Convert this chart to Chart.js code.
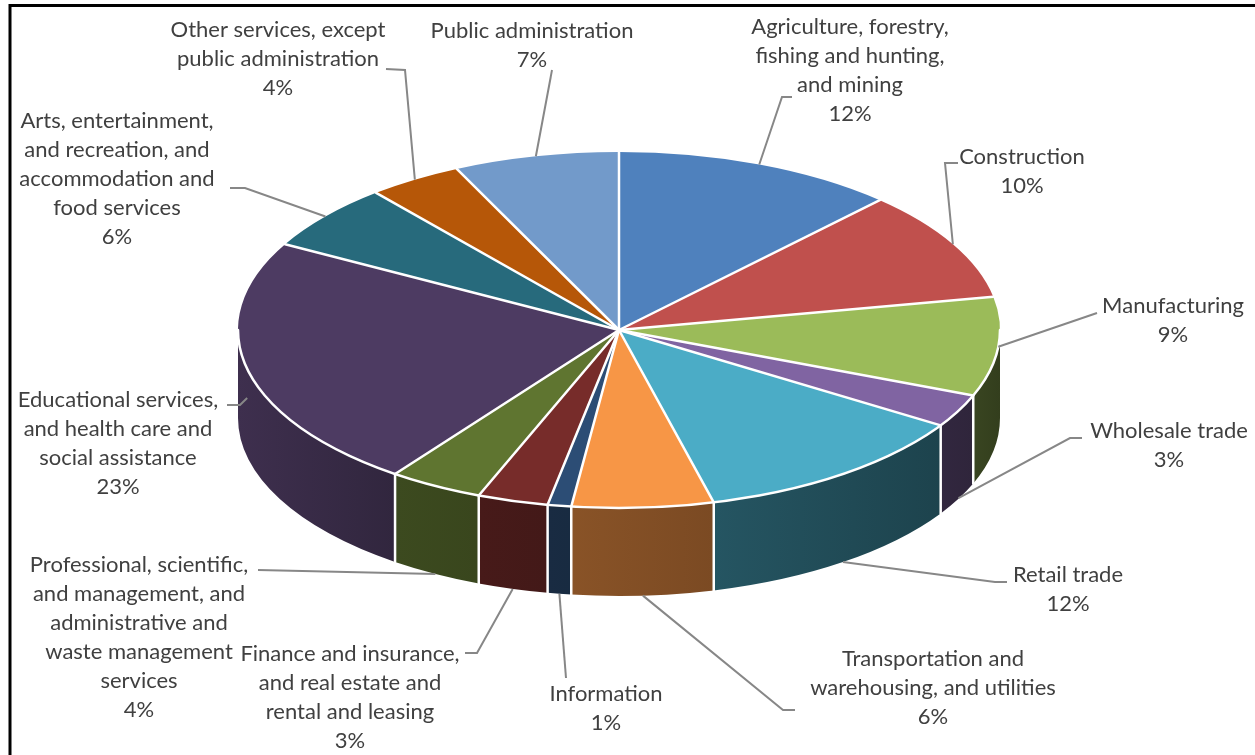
<!DOCTYPE html>
<html>
<head>
<meta charset="utf-8">
<script src="https://cdn.jsdelivr.net/npm/chart.js@4.4.0/dist/chart.umd.min.js"></script>
<style>
html, body { margin: 0; padding: 0; background: #fff; }
canvas { display: block; }
</style>
</head>
<body>
<canvas id="industryPie" width="1255" height="755"></canvas>
<script>
// data, clockwise from 12 o'clock
const categories = [
    'Agriculture, forestry,\nfishing and hunting,\nand mining',
    'Construction',
    'Manufacturing',
    'Wholesale trade',
    'Retail trade',
    'Transportation and\nwarehousing, and utilities',
    'Information',
    'Finance and insurance,\nand real estate and\nrental and leasing',
    'Professional, scientific,\nand management, and\nadministrative and\nwaste management\nservices',
    'Educational services,\nand health care and\nsocial assistance',
    'Arts, entertainment,\nand recreation, and\naccommodation and\nfood services',
    'Other services, except\npublic administration',
    'Public administration'
];
const shares = [12, 10, 9, 3, 12, 6, 1, 3, 4, 23, 6, 4, 7];
const sliceColors = ['#4F81BD', '#C0504D', '#9BBB59', '#8064A2', '#4BACC6', '#F79646', '#2C4D75',
    '#772C2A', '#5F7530', '#4D3B62', '#276A7C', '#B65708', '#729ACA'];

// label placement: centre x, first line y, leader line points next to the label
const labelSpots = [
    { x: 850, y: 27, lead: [[792, 97], [782, 97]] },
    { x: 1022, y: 157, lead: [[958, 163], [945, 163]] },
    { x: 1173, y: 306, lead: [[1097, 313]] },
    { x: 1169, y: 431, lead: [[1082, 438], [1070, 438]] },
    { x: 1068, y: 575, lead: [[1007, 582], [995, 582]] },
    { x: 933, y: 659, lead: [[795, 710], [783, 710]] },
    { x: 606, y: 694, lead: [[566, 678]] },
    { x: 350, y: 654, lead: [[465, 653], [477, 653]] },
    { x: 139, y: 565, lead: [[258, 570]] },
    { x: 118, y: 400, lead: [[227, 405], [240, 405]] },
    { x: 117, y: 121, lead: [[230, 188], [245, 188]] },
    { x: 278, y: 30, lead: [[386, 69], [405, 70]] },
    { x: 532, y: 31, lead: [[552, 70]] }
];

const tilt = 178 / 381;
const depth = 88;
const lineGap = 29;

function shade(hex, f) {
    var n = parseInt(hex.slice(1), 16);
    var r = Math.round(((n >> 16) & 255) * f);
    var g = Math.round(((n >> 8) & 255) * f);
    var b = Math.round((n & 255) * f);
    return 'rgb(' + r + ',' + g + ',' + b + ')';
}

// side walls get darker towards the right
function sideFactor(a) {
    return 0.33 + 0.47 * Math.pow(a / Math.PI, 1.2);
}

const pie3d = {
    id: 'pie3d',
    beforeDraw(chart) {
        const ctx = chart.ctx;
        ctx.save();
        ctx.fillStyle = '#fff';
        ctx.fillRect(0, 0, chart.width, chart.height);
        ctx.restore();
    },
    beforeDatasetsDraw(chart) {
        const ctx = chart.ctx;
        const arcs = chart.getDatasetMeta(0).data;
        const cx = arcs[0].x, cy = arcs[0].y, R = arcs[0].outerRadius, r = R * tilt;

        arcs.forEach(function (arc, i) {
            var s = Math.max(arc.startAngle, 0), e = Math.min(arc.endAngle, Math.PI);
            if (e <= s) return;
            var xs = cx + R * Math.cos(s), xe = cx + R * Math.cos(e);
            var g = ctx.createLinearGradient(xe, 0, xs, 0);
            g.addColorStop(0, shade(sliceColors[i], sideFactor(e)));
            g.addColorStop(1, shade(sliceColors[i], sideFactor(s)));
            ctx.beginPath();
            ctx.ellipse(cx, cy, R, r, 0, s, e);
            ctx.lineTo(xe, cy + r * Math.sin(e) + depth);
            ctx.ellipse(cx, cy + depth, R, r, 0, e, s, true);
            ctx.closePath();
            ctx.fillStyle = g;
            ctx.fill();
        });

        // squash the library's circular arcs into the top face
        ctx.save();
        ctx.translate(cx, cy);
        ctx.scale(1, tilt);
        ctx.translate(-cx, -cy);
    },
    afterDatasetsDraw(chart) {
        const ctx = chart.ctx;
        ctx.restore();
        const arcs = chart.getDatasetMeta(0).data;
        const cx = arcs[0].x, cy = arcs[0].y, R = arcs[0].outerRadius, r = R * tilt;

        ctx.save();
        ctx.strokeStyle = '#fff';
        ctx.lineWidth = 2.5;
        ctx.lineCap = 'round';
        arcs.forEach(function (arc) {
            var a = arc.startAngle;
            var px = cx + R * Math.cos(a), py = cy + r * Math.sin(a);
            ctx.beginPath();
            ctx.moveTo(cx, cy);
            ctx.lineTo(px, py);
            ctx.stroke();
            if (a > 0 && a < Math.PI) {
                ctx.beginPath();
                ctx.moveTo(px, py);
                ctx.lineTo(px, py + depth);
                ctx.stroke();
            }
        });
        ctx.beginPath();
        ctx.ellipse(cx, cy, R, r, 0, 0, Math.PI);
        ctx.stroke();
        ctx.restore();

        // labels with leader lines
        ctx.save();
        ctx.font = '22px Lato';
        ctx.fillStyle = '#404040';
        ctx.textAlign = 'center';
        ctx.textBaseline = 'middle';
        ctx.strokeStyle = '#878787';
        ctx.lineWidth = 2;
        arcs.forEach(function (arc, i) {
            var spot = labelSpots[i];
            var mid = (arc.startAngle + arc.endAngle) / 2;
            var ex = cx + R * Math.cos(mid);
            var ey = cy + r * Math.sin(mid);
            if (Math.sin(mid) > 0) ey += depth * Math.min(1, Math.max(0, Math.sin(mid) - 0.1) * 2.8);
            ctx.beginPath();
            ctx.moveTo(spot.lead[0][0], spot.lead[0][1]);
            for (var k = 1; k < spot.lead.length; k++) ctx.lineTo(spot.lead[k][0], spot.lead[k][1]);
            ctx.lineTo(ex, ey);
            ctx.stroke();

            var lines = categories[i].split('\n');
            lines.push(Math.round(shares[i]) + '%');
            lines.forEach(function (t, j) {
                ctx.fillText(t, spot.x, spot.y + j * lineGap);
            });
        });
        ctx.restore();

        // chart frame
        ctx.save();
        ctx.strokeStyle = '#000';
        ctx.lineWidth = 3;
        ctx.strokeRect(10, 5.5, 1300, 800);
        ctx.restore();
    }
};

const ctx = document.getElementById('industryPie').getContext('2d');
const myChart = new Chart(ctx, {
    type: 'pie',
    data: {
        labels: categories.map(function (c) { return c.replace(/\n/g, ' '); }),
        datasets: [{
            data: shares,
            backgroundColor: sliceColors,
            borderWidth: 0,
            radius: 381,
            clip: false
        }]
    },
    options: {
        responsive: false,
        devicePixelRatio: 1,
        animation: false,
        events: [],
        layout: { padding: { left: 0, right: 17, top: 0, bottom: 95 } },
        plugins: {
            legend: { display: false },
            tooltip: { enabled: false }
        }
    },
    plugins: [pie3d]
});
</script>
</body>
</html>
